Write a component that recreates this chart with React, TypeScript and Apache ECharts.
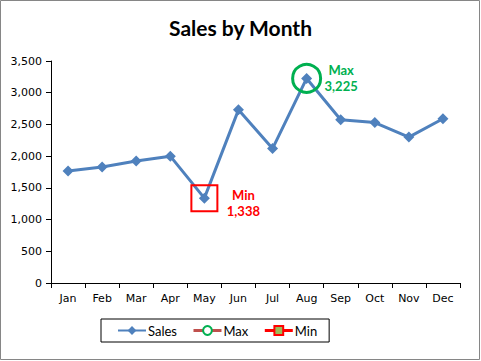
import React, { useEffect, useRef } from "react";
import * as echarts from "echarts";

const months = ["Jan", "Feb", "Mar", "Apr", "May", "Jun", "Jul", "Aug", "Sep", "Oct", "Nov", "Dec"];
const sales = [1765, 1830, 1925, 2000, 1338, 2730, 2120, 3225, 2575, 2530, 2300, 2590];
const maxValues = [null, null, null, null, null, null, null, 3225, null, null, null, null];
const minValues = [null, null, null, null, 1338, null, null, null, null, null, null, null];
const yTicks = { min: 0, max: 3500, interval: 500 };

const fmt = (v: number) => v.toLocaleString("en-US");

export default function App() {
  const ref = useRef<HTMLDivElement>(null);
  useEffect(() => {
    if (!ref.current) return;
    const chart = echarts.init(ref.current, null, { renderer: "svg" });
    const axisFont = { fontFamily: "DejaVu Sans", fontSize: 11, color: "#000" };
    chart.setOption({
      animation: false,
      backgroundColor: "#fff",
      title: {
        text: "Sales by Month",
        left: "center",
        top: 12,
        textStyle: { fontFamily: "Lato", fontWeight: "bold", fontSize: 21, color: "#000" },
      },
      grid: { left: 51, right: 21, top: 61, bottom: 78 },
      xAxis: {
        type: "category",
        data: months,
        boundaryGap: true,
        axisLine: { lineStyle: { color: "#000", width: 1 } },
        axisTick: { show: true, length: 5, inside: false, lineStyle: { color: "#000" } },
        axisLabel: { ...axisFont, margin: 10 },
      },
      yAxis: {
        type: "value",
        min: yTicks.min,
        max: yTicks.max,
        interval: yTicks.interval,
        splitLine: { show: false },
        axisLine: { show: true, lineStyle: { color: "#000", width: 1 } },
        axisTick: { show: true, length: 5, lineStyle: { color: "#000" } },
        axisLabel: { ...axisFont, margin: 9, formatter: (v: number) => fmt(v) },
      },
      legend: {
        left: 101,
        top: 319,
        itemWidth: 28,
        itemHeight: 11,
        itemGap: 15,
        padding: [5, 12, 5, 16],
        borderColor: "#000",
        borderWidth: 1,
        borderRadius: 0,
        textStyle: { fontFamily: "Lato", fontSize: 13, color: "#000", padding: [0, 0, 0, -3] },
        data: [
          { name: "Sales" },
          {
            name: "Max",
            itemStyle: { color: "#fff", borderColor: "#00B050", borderWidth: 2 },
            lineStyle: { color: "#C0504D", width: 3 },
          },
          {
            name: "Min",
            itemStyle: { color: "#9BBB59", borderColor: "#FF0000", borderWidth: 2 },
            lineStyle: { color: "#FF0000", width: 3 },
          },
        ],
      },
      series: [
        {
          name: "Sales",
          type: "line",
          data: sales,
          symbol: "diamond",
          symbolSize: 11,
          lineStyle: { color: "#4F81BD", width: 3 },
          itemStyle: { color: "#4F81BD" },
          z: 2,
        },
        {
          name: "Max",
          type: "line",
          data: maxValues,
          symbol: "circle",
          symbolSize: 28,
          lineStyle: { color: "#C0504D", width: 3 },
          itemStyle: { color: "rgba(0,0,0,0)", borderColor: "#00B050", borderWidth: 3 },
          z: 3,
          label: {
            show: true,
            position: [50, -1],
            align: "center",
            verticalAlign: "top",
            formatter: (p: any) => `Max\n${fmt(p.value)}`,
            fontFamily: "Lato",
            fontWeight: "bold",
            fontSize: 13,
            lineHeight: 16,
            color: "#00B050",
          },
        },
        {
          name: "Min",
          type: "line",
          data: minValues,
          symbol: "rect",
          symbolSize: 26,
          lineStyle: { color: "#FF0000", width: 3 },
          itemStyle: { color: "rgba(0,0,0,0)", borderColor: "#FF0000", borderWidth: 2 },
          z: 3,
          label: {
            show: true,
            position: [53, 3],
            align: "center",
            verticalAlign: "top",
            formatter: (p: any) => `Min\n${fmt(p.value)}`,
            fontFamily: "Lato",
            fontWeight: "bold",
            fontSize: 13,
            lineHeight: 16,
            color: "#FF0000",
          },
        },
      ],
      graphic: [
        {
          type: "rect",
          shape: { x: 0.5, y: 0.5, width: 479, height: 359 },
          style: { fill: "none", stroke: "#868686", lineWidth: 1 },
          silent: true,
        },
      ],
    });
    return () => chart.dispose();
  }, []);
  return <div ref={ref} style={{ position: "fixed", left: 0, top: 0, width: 481, height: 361 }} />;
}
